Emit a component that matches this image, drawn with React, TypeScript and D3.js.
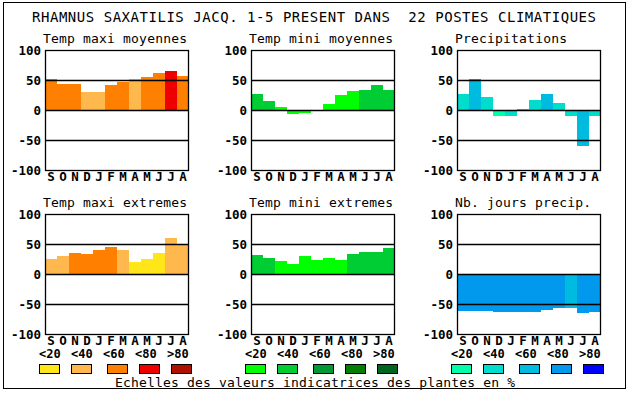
import React from 'react';
import * as d3 from 'd3';

const months = ['S', 'O', 'N', 'D', 'J', 'F', 'M', 'A', 'M', 'J', 'J', 'A'];
const tickValues = [100, 50, 0, -50, -100];
const gridValues = [50, 0, -50];
const legendLabels = ['<20', '<40', '<60', '<80', '>80'];

const titleText = 'RHAMNUS SAXATILIS JACQ. 1-5 PRESENT DANS  22 POSTES CLIMATIQUES';
const footerText = 'Echelles des valeurs indicatrices des plantes en %';

const panelTitles = [
  'Temp maxi moyennes',
  'Temp mini moyennes',
  'Precipitations',
  'Temp maxi extremes',
  'Temp mini extremes',
  'Nb. jours precip.',
];

// values (-100..100) and colour class (0..4) for each month
const tmaxMoyValues = [52, 44, 44, 30, 30, 42, 47, 52, 55, 62, 65, 57];
const tmaxMoyClasses = [2, 2, 2, 1, 1, 2, 2, 1, 2, 2, 3, 2];
const tminMoyValues = [27, 15, 5, -7, -5, 0, 10, 25, 32, 34, 42, 34];
const tminMoyClasses = [1, 1, 0, 0, 0, 0, 0, 0, 0, 1, 1, 1];
const precipValues = [27, 52, 22, -10, -10, 2, 17, 27, 12, -10, -60, -10];
const precipClasses = [1, 2, 1, 0, 1, 1, 1, 2, 1, 1, 2, 1];
const tmaxExtValues = [25, 30, 35, 33, 40, 45, 40, 20, 25, 35, 60, 50];
const tmaxExtClasses = [1, 1, 2, 2, 2, 2, 1, 0, 0, 0, 1, 1];
const tminExtValues = [32, 27, 22, 17, 30, 24, 27, 24, 34, 37, 37, 44];
const tminExtClasses = [1, 1, 0, 0, 0, 0, 0, 0, 1, 1, 1, 1];
const joursValues = [-62, -61, -62, -64, -64, -64, -64, -60, -57, -57, -65, -64];
const joursClasses = [3, 3, 3, 3, 3, 3, 3, 3, 3, 2, 3, 3];

const orangePalette = ['#ffe619', '#ffb84d', '#ff8000', '#ee0000', '#b01000'];
const greenPalette = ['#00ff00', '#00cc33', '#009933', '#007f00', '#00661f'];
const bluePalette = ['#00ffaa', '#00ddcc', '#00bbe0', '#0099ee', '#0000ff'];

const mono = "'DejaVu Sans Mono', monospace";

const colLefts = [45, 251, 457];
const rowTops = [50, 214];
const plotW = 144;
const plotH = 120;

type PanelProps = {
  left: number;
  top: number;
  title: string;
  values: number[];
  classes: number[];
  palette: string[];
};

function Panel({ left, top, title, values, classes, palette }: PanelProps) {
  const x = d3.scaleBand<number>().domain(d3.range(months.length)).range([left, left + plotW]);
  const y = d3.scaleLinear().domain([-100, 100]).range([top + plotH, top]);

  return (
    <g>
      <text
        x={left - 2}
        y={top - 7}
        fontFamily={mono}
        fontSize={13}
        textLength={title.length * 8}
        lengthAdjust="spacing"
      >
        {title}
      </text>
      {values.map((v, i) => {
        const y0 = y(Math.max(0, v));
        const y1 = y(Math.min(0, v));
        if (y1 - y0 <= 0) return null;
        return (
          <rect
            key={i}
            x={x(i)}
            y={y0}
            width={x.bandwidth()}
            height={y1 - y0}
            fill={palette[classes[i]]}
            shapeRendering="crispEdges"
          />
        );
      })}
      {gridValues.map((g) => (
        <line
          key={g}
          x1={left}
          x2={left + plotW}
          y1={Math.round(y(g)) + 0.5}
          y2={Math.round(y(g)) + 0.5}
          stroke="#000"
          strokeWidth={1.3}
        />
      ))}
      <rect
        x={left + 0.5}
        y={top + 0.5}
        width={plotW - 1}
        height={plotH}
        fill="none"
        stroke="#000"
        strokeWidth={1.3}
      />
      {tickValues.map((t) => (
        <text
          key={t}
          x={left - 4}
          y={y(t)}
          dy="0.36em"
          textAnchor="end"
          fontFamily={mono}
          fontWeight="bold"
          fontSize={12.5}
        >
          {t}
        </text>
      ))}
      {months.map((m, i) => (
        <text
          key={i}
          x={(x(i) as number) + x.bandwidth() / 2}
          y={top + plotH + 11}
          textAnchor="middle"
          fontFamily={mono}
          fontWeight="bold"
          fontSize={12.5}
        >
          {m}
        </text>
      ))}
    </g>
  );
}

export default function App() {
  const panels = [
    { values: tmaxMoyValues, classes: tmaxMoyClasses, palette: orangePalette },
    { values: tminMoyValues, classes: tminMoyClasses, palette: greenPalette },
    { values: precipValues, classes: precipClasses, palette: bluePalette },
    { values: tmaxExtValues, classes: tmaxExtClasses, palette: orangePalette },
    { values: tminExtValues, classes: tminExtClasses, palette: greenPalette },
    { values: joursValues, classes: joursClasses, palette: bluePalette },
  ];
  const palettes = [orangePalette, greenPalette, bluePalette];
  const legendBoxOffsets = [0, 32, 68, 100, 132];

  return (
    <svg
      width={630}
      height={394}
      style={{ position: 'absolute', left: 0, top: 0, background: '#fff' }}
    >
      <rect x={3.5} y={2.5} width={622} height={386} fill="#fff" stroke="#000" />
      <text
        x={32}
        y={22}
        fontFamily={mono}
        fontSize={14}
        textLength={564}
        lengthAdjust="spacing"
        style={{ whiteSpace: 'pre' }}
      >
        {titleText}
      </text>
      {panels.map((p, i) => (
        <Panel
          key={i}
          left={colLefts[i % 3]}
          top={rowTops[Math.floor(i / 3)]}
          title={panelTitles[i]}
          values={p.values}
          classes={p.classes}
          palette={p.palette}
        />
      ))}
      {palettes.map((pal, g) => {
        const gx = 39 + 206 * g;
        return (
          <g key={g}>
            {legendLabels.map((l, i) => (
              <text
                key={l}
                x={gx + 32 * i}
                y={358}
                fontFamily={mono}
                fontWeight="bold"
                fontSize={12}
              >
                {l}
              </text>
            ))}
            {pal.map((c, i) => (
              <rect
                key={c}
                x={gx + legendBoxOffsets[i] + 0.5}
                y={364.5}
                width={20}
                height={9}
                fill={c}
                stroke="#000"
              />
            ))}
          </g>
        );
      })}
      <text
        x={115}
        y={387}
        fontFamily={mono}
        fontSize={13}
        textLength={400}
        lengthAdjust="spacing"
      >
        {footerText}
      </text>
    </svg>
  );
}
